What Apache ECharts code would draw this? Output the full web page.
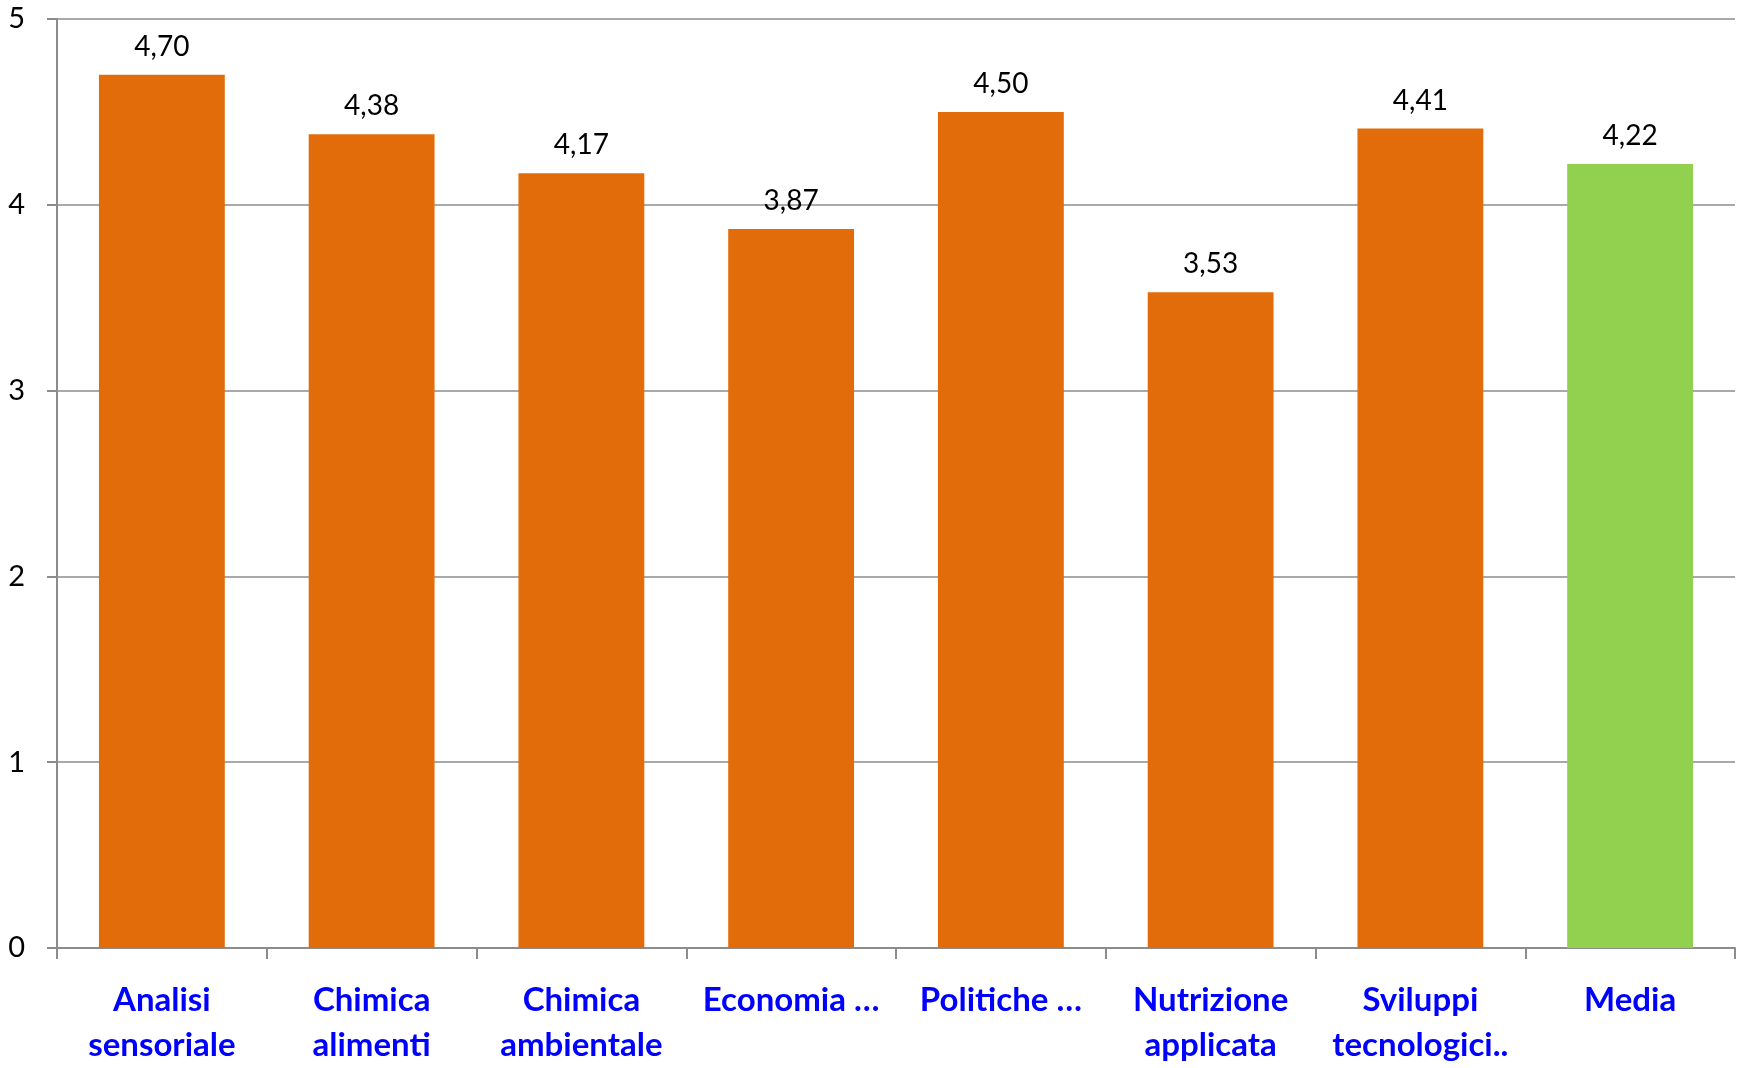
<!DOCTYPE html>
<html>
<head>
<meta charset="utf-8">
<script src="https://cdn.jsdelivr.net/npm/echarts@6/dist/echarts.min.js"></script>
<style>
html,body{margin:0;padding:0;background:#fff;}
#chart{width:1744px;height:1068px;}
</style>
</head>
<body>
<div id="chart"></div>
<script>
const categories = ["Analisi\nsensoriale", "Chimica\nalimenti", "Chimica\nambientale", "Economia …", "Politiche …", "Nutrizione\napplicata", "Sviluppi\ntecnologici..", "Media"];
const values = [4.70, 4.38, 4.17, 3.87, 4.50, 3.53, 4.41, 4.22];
const barColors = ["#E36C0A", "#E36C0A", "#E36C0A", "#E36C0A", "#E36C0A", "#E36C0A", "#E36C0A", "#92D050"];
const yTicks = [0, 1, 2, 3, 4, 5];

const chart = echarts.init(document.getElementById('chart'), null, {renderer: 'canvas'});
chart.setOption({
  animation: false,
  backgroundColor: '#ffffff',
  grid: {left: 57, right: 9, top: 19, bottom: 113, containLabel: false},
  xAxis: {
    type: 'category',
    data: categories,
    axisLine: {show: true, lineStyle: {color: '#8c8c8c', width: 2}},
    axisTick: {show: true, alignWithLabel: false, length: 11, lineStyle: {color: '#8c8c8c', width: 2}},
    axisLabel: {
      interval: 0,
      margin: 30,
      color: '#0000FF',
      fontFamily: 'Lato',
      fontWeight: 'bold',
      fontSize: 33,
      lineHeight: 45
    }
  },
  yAxis: {
    type: 'value',
    min: yTicks[0],
    max: yTicks[yTicks.length - 1],
    interval: 1,
    axisLine: {show: true, lineStyle: {color: '#8c8c8c', width: 2}},
    axisTick: {show: true, length: 10, inside: false, lineStyle: {color: '#8c8c8c', width: 2}},
    splitLine: {show: true, lineStyle: {color: '#8c8c8c', width: 1.5}},
    axisLabel: {
      margin: 32,
      color: '#000000',
      fontFamily: 'Lato',
      fontSize: 29,
      formatter: v => String(v)
    }
  },
  series: [{
    type: 'bar',
    barWidth: '60%',
    data: values.map((v, i) => ({value: v, itemStyle: {color: barColors[i]}})),
    label: {
      show: true,
      position: 'top',
      distance: 14,
      color: '#000000',
      fontFamily: 'Lato',
      fontSize: 28,
      formatter: p => p.value.toFixed(2).replace('.', ',')
    }
  }]
});
</script>
</body>
</html>
